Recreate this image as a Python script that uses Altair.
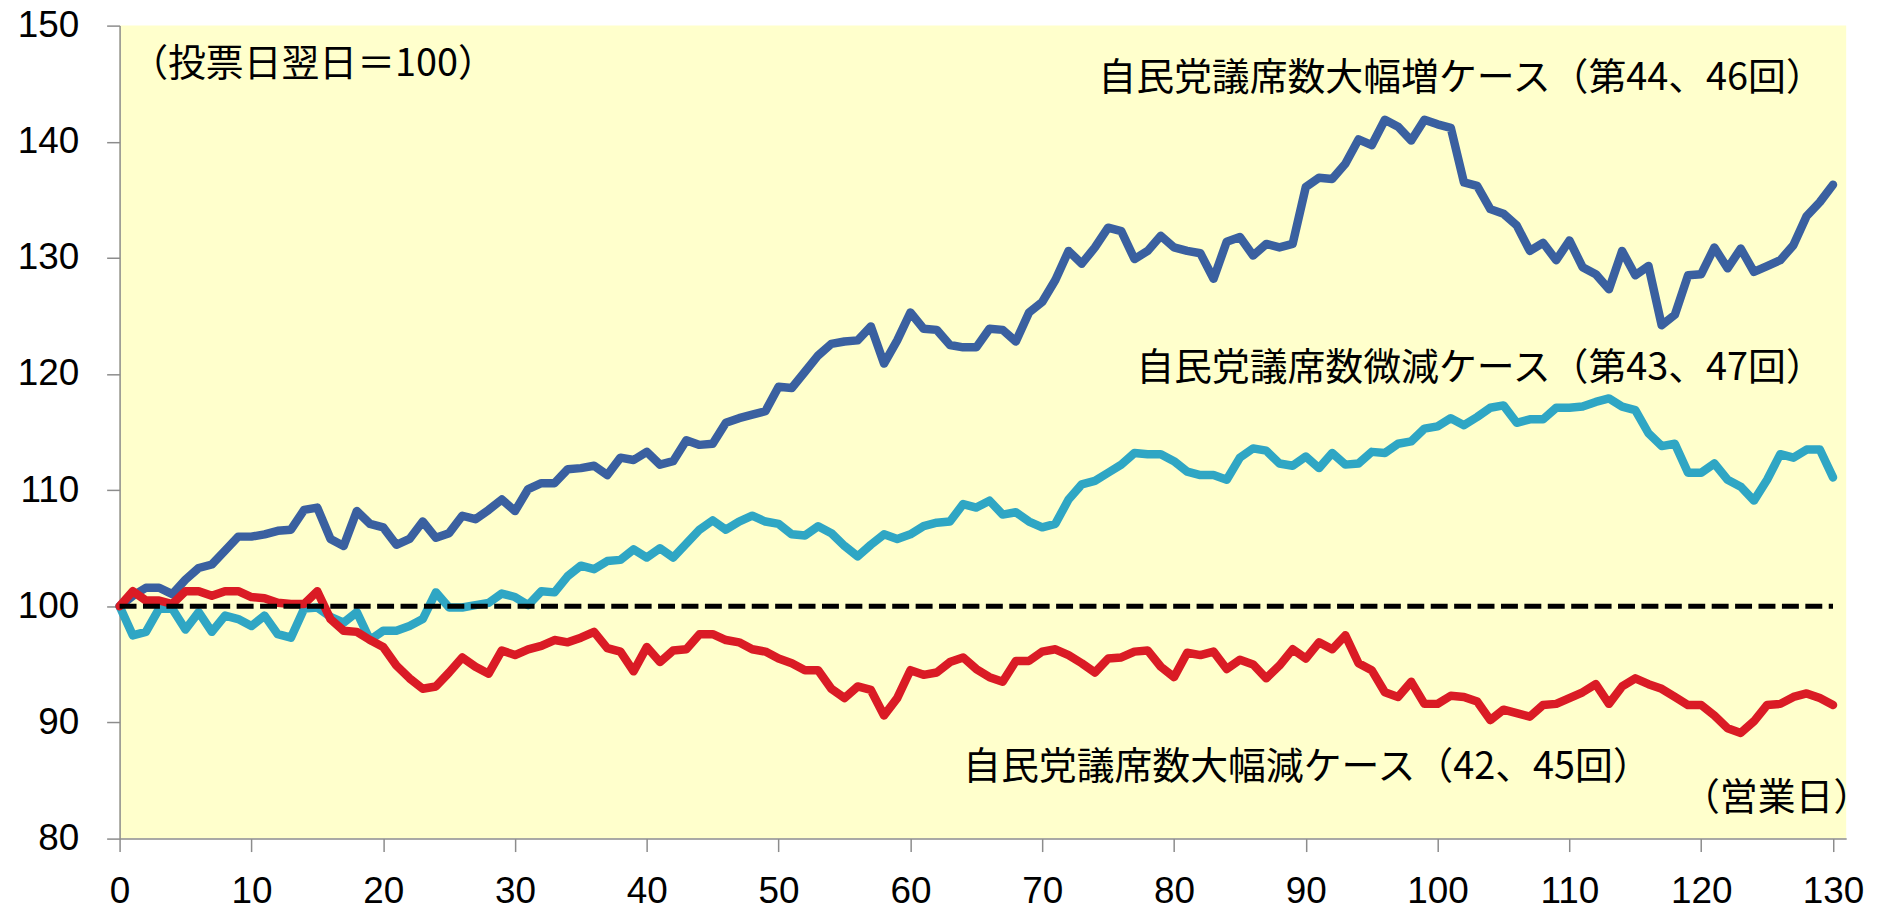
import altair as alt
import pandas as pd

# ---- data ----
days = list(range(0, 131))

increase = [
    100.0, 100.9, 101.6, 101.6, 101.05, 102.3, 103.3, 103.6, 104.8, 106.0,
    106.0, 106.2, 106.5, 106.6, 108.3, 108.5, 105.8, 105.2, 108.2, 107.1,
    106.8, 105.3, 105.8, 107.3, 105.9, 106.3, 107.8, 107.5, 108.3, 109.2,
    108.2, 110.1, 110.6, 110.6, 111.8, 111.9, 112.1, 111.3, 112.8, 112.6,
    113.3, 112.2, 112.5, 114.3, 113.9, 114.0, 115.8, 116.2, 116.5, 116.8,
    118.9, 118.8, 120.2, 121.6, 122.6, 122.8, 122.9, 124.1, 120.9, 122.9,
    125.3, 123.9, 123.8, 122.5, 122.3, 122.3, 123.9, 123.8, 122.8, 125.3,
    126.2, 128.1, 130.6, 129.5, 130.9, 132.6, 132.3, 129.9, 130.6, 131.9,
    130.9, 130.6, 130.4, 128.2, 131.4, 131.8, 130.2, 131.2, 130.9, 131.2,
    136.1, 136.9, 136.8, 138.1, 140.2, 139.7, 141.9, 141.3, 140.1, 141.9,
    141.5, 141.2, 136.5, 136.2, 134.2, 133.8, 132.8, 130.6, 131.3, 129.8,
    131.5, 129.2, 128.6, 127.3, 130.6, 128.5, 129.3, 124.2, 125.1, 128.5,
    128.6, 130.9, 129.1, 130.8, 128.8, 129.3, 129.8, 131.1, 133.6, 134.8,
    136.3,
]

slight = [
    100.0, 97.5, 97.8, 99.8, 99.8, 98.0, 99.5, 97.8, 99.2, 98.9,
    98.3, 99.2, 97.6, 97.3, 99.8, 99.9, 99.1, 98.6, 99.5, 97.1,
    97.9, 97.9, 98.3, 98.9, 101.2, 99.9, 99.9, 100.1, 100.3, 101.1,
    100.8, 100.1, 101.3, 101.2, 102.6, 103.5, 103.2, 103.9, 104.0, 104.9,
    104.2, 105.0, 104.2, 105.4, 106.6, 107.4, 106.6, 107.3, 107.8, 107.3,
    107.1, 106.2, 106.1, 106.9, 106.3, 105.2, 104.3, 105.3, 106.2, 105.8,
    106.2, 106.9, 107.2, 107.3, 108.8, 108.5, 109.1, 107.9, 108.1, 107.3,
    106.8, 107.1, 109.2, 110.5, 110.8, 111.5, 112.2, 113.2, 113.1, 113.1,
    112.5, 111.6, 111.3, 111.3, 110.9, 112.8, 113.6, 113.4, 112.3, 112.1,
    112.9, 111.9, 113.2, 112.2, 112.3, 113.3, 113.2, 114.0, 114.2, 115.3,
    115.5, 116.2, 115.6, 116.3, 117.1, 117.3, 115.8, 116.1, 116.1, 117.1,
    117.1, 117.2, 117.6, 117.9, 117.2, 116.9, 114.9, 113.8, 114.0, 111.5,
    111.5, 112.3, 110.9, 110.3, 109.1, 110.9, 113.1, 112.8, 113.5, 113.5,
    111.1,
]

decrease = [
    100.0, 101.3, 100.5, 100.5, 100.2, 101.3, 101.3, 100.9, 101.3, 101.3,
    100.8, 100.7, 100.3, 100.2, 100.2, 101.3, 98.9, 97.9, 97.8, 97.1,
    96.5, 94.9, 93.8, 92.9, 93.1, 94.3, 95.6, 94.8, 94.2, 96.2,
    95.8, 96.3, 96.6, 97.1, 96.9, 97.3, 97.8, 96.4, 96.1, 94.4,
    96.5, 95.2, 96.2, 96.3, 97.6, 97.6, 97.1, 96.9, 96.3, 96.1,
    95.5, 95.1, 94.5, 94.5, 92.9, 92.1, 93.1, 92.8, 90.6, 92.1,
    94.5, 94.1, 94.3, 95.2, 95.6, 94.6, 93.9, 93.5, 95.3, 95.3,
    96.1, 96.3, 95.8, 95.1, 94.3, 95.5, 95.6, 96.1, 96.2, 94.8,
    93.9, 96.0, 95.8, 96.1, 94.6, 95.4, 95.0, 93.8, 94.9, 96.3,
    95.5, 96.9, 96.3, 97.5, 95.1, 94.5, 92.6, 92.2, 93.5, 91.6,
    91.6, 92.3, 92.2, 91.8, 90.2, 91.1, 90.8, 90.5, 91.5, 91.6,
    92.1, 92.6, 93.3, 91.6, 93.1, 93.8, 93.3, 92.9, 92.2, 91.5,
    91.5, 90.6, 89.5, 89.1, 90.1, 91.5, 91.6, 92.2, 92.5, 92.1,
    91.5,
]

x_ticks = list(range(0, 131, 10))
y_ticks = list(range(80, 151, 10))
baseline_value = 100

label_index = "（投票日翌日＝100）"
label_inc = "自民党議席数大幅増ケース（第44、46回）"
label_slight = "自民党議席数微減ケース（第43、47回）"
label_dec = "自民党議席数大幅減ケース（42、45回）"
label_xunit = "（営業日）"

# ---- styling ----
BLUE = "#3A60A0"
CYAN = "#2FA6C4"
RED = "#DA1B25"
AXIS_GRAY = "#8C8C8C"
JP_FONT = "Noto Sans CJK JP"
NUM_FONT = "Liberation Sans"

x_scale = alt.Scale(domain=[0, 131], nice=False, zero=False)
y_scale = alt.Scale(domain=[80, 150], nice=False, zero=False)

x_axis = alt.Axis(
    values=x_ticks, title=None, grid=False, tickSize=13, tickWidth=1.5,
    tickColor=AXIS_GRAY, domainColor=AXIS_GRAY, domainWidth=1.5,
    labelFont=NUM_FONT, labelFontSize=37, labelColor="black",
    labelPadding=22, labelFlush=False, labelOverlap=False,
)
y_axis = alt.Axis(
    values=y_ticks, title=None, grid=False, tickSize=13, tickWidth=1.5,
    tickColor=AXIS_GRAY, domainColor=AXIS_GRAY, domainWidth=1.5,
    labelFont=NUM_FONT, labelFontSize=37, labelColor="black",
    labelPadding=28, labelFlush=False, labelOverlap=False,
)


def xy(xfield, yfield):
    return dict(
        x=alt.X(xfield, scale=x_scale, axis=x_axis, title=None),
        y=alt.Y(yfield, scale=y_scale, axis=y_axis, title=None),
    )


def series_layer(values, color):
    df = pd.DataFrame({"day": days, "value": values})
    return alt.Chart(df).mark_line(
        color=color, strokeWidth=8.5, strokeJoin="round", strokeCap="round"
    ).encode(**xy("day:Q", "value:Q"))


blue_line = series_layer(increase, BLUE)
cyan_line = series_layer(slight, CYAN)
red_line = series_layer(decrease, RED)

base_df = pd.DataFrame({"x0": [days[0]], "x1": [days[-1]], "y": [baseline_value]})
dashed = alt.Chart(base_df).mark_rule(
    color="black", strokeWidth=5, strokeDash=[17, 6.5]
).encode(x2="x1:Q", **xy("x0:Q", "y:Q"))


def text_layer(text, x, y, align):
    df = pd.DataFrame({"x": [x], "y": [y], "t": [text]})
    return alt.Chart(df).mark_text(
        font=JP_FONT, fontSize=38, color="black", align=align, baseline="middle"
    ).encode(text="t:N", **xy("x:Q", "y:Q"))


texts = [
    text_layer(label_index, 0.8, 146.6, "left"),
    text_layer(label_inc, 129.3, 145.4, "right"),
    text_layer(label_slight, 129.3, 120.4, "right"),
    text_layer(label_dec, 64.0, 86.1, "left"),
    text_layer(label_xunit, 132.9, 83.4, "right"),
]

chart = alt.layer(
    blue_line, cyan_line, red_line, dashed, *texts
).properties(
    width=1733,
    height=816,
    autosize=alt.AutoSizeParams(type="none"),
    padding={"left": 112, "top": 16, "right": 50, "bottom": 75},
    background="white",
).configure_view(
    fill="#FFFFCC", strokeWidth=0
)

chart.save("out.html", embed_options={"renderer": "svg", "actions": False})
